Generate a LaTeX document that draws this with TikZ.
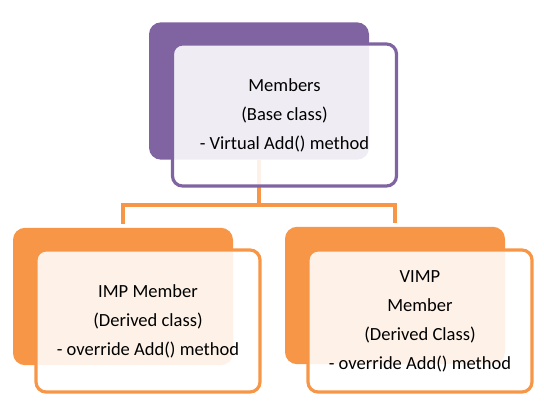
\documentclass[tikz,border=0pt]{standalone}
\usepackage{fontspec}
\setmainfont{Carlito}
\definecolor{ppl}{HTML}{8064A2}
\definecolor{org}{HTML}{F79646}
\begin{document}
\begin{tikzpicture}[x=0.75pt,y=-0.75pt,
  backbox/.style={fill=#1, draw=none, rounded corners=9pt, minimum width=165pt, minimum height=103pt, inner sep=0pt},
  frontbox/.style={draw=#1, line width=2.4pt, fill=white, fill opacity=0.88, text opacity=1, rounded corners=7.5pt,
     minimum width=168pt, minimum height=106.5pt, inner sep=0pt, align=center,
     font=\fontsize{13.9}{21.75}\selectfont},
  conn/.style={draw=org, line width=2.6pt}]
\useasboundingbox (0,0) rectangle (544,403);
% back boxes
\node[backbox=ppl] (backA) at (259,91) {};
\node[backbox=org] (backB) at (123,296.5) {};
\node[backbox=org] (backC) at (395,295.5) {};
% connectors
\coordinate (bus) at (259,205);
\draw[conn] (backA.south) -- (backA.south |- bus) -| ([yshift=3pt]backB.north);
\draw[conn] (backA.south |- bus) -| ([yshift=3pt]backC.north);
% front boxes
\node[frontbox=ppl] (frontA) at (284.5,115) {Members\\(Base class)\\- Virtual Add() method};
\node[frontbox=org] (frontB) at (148,321) {IMP Member\\(Derived class)\\- override Add() method};
\node[frontbox=org] (frontC) at (420,321) {VIMP\\Member\\(Derived Class)\\- override Add() method};
\end{tikzpicture}
\end{document}
